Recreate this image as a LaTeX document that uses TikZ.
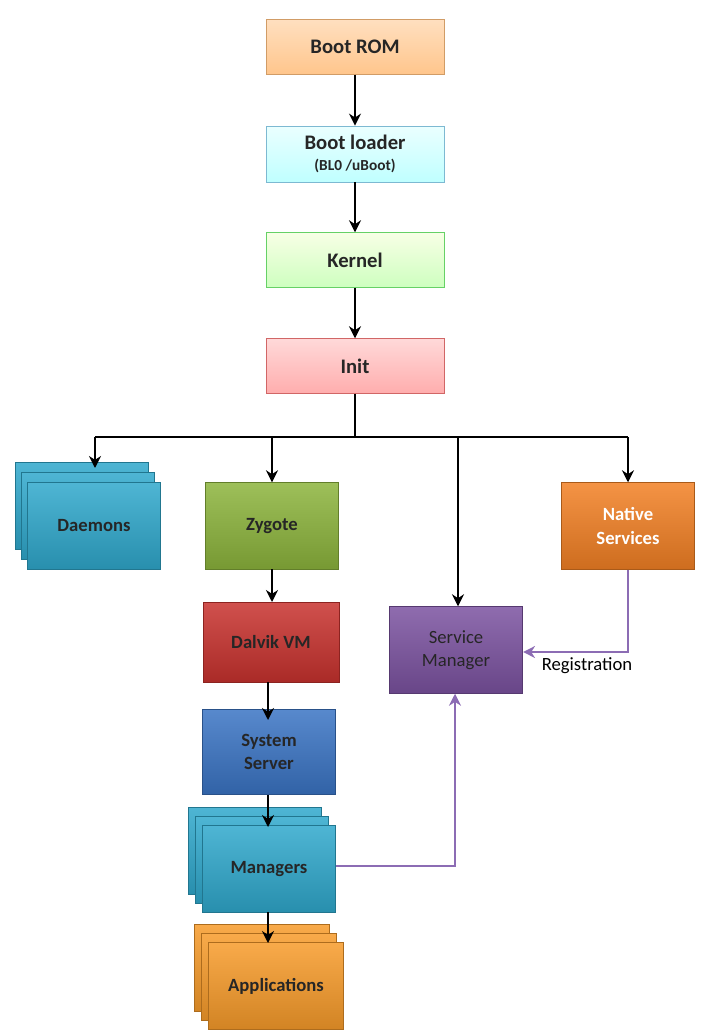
\documentclass[tikz,border=0pt]{standalone}
\usepackage{fontspec}
\setmainfont{Carlito}
\usetikzlibrary{arrows.meta}
\begin{document}
\begin{tikzpicture}[x=0.75pt,y=-0.75pt,
  lite/.style={draw=#1!70!black!60, line width=0.6pt, inner sep=0pt, font=\bfseries\fontsize{15.5}{17}\selectfont, text=black!85, align=center},
  dark/.style={draw=#1!70!black, line width=0.6pt, top color=#1!85!white, bottom color=#1!85!black, inner sep=0pt, font=\bfseries\fontsize{14}{17.5}\selectfont, text=black!85, align=center},
  arr/.style={line width=2pt, -{Stealth[length=9pt,width=9pt]}},
  parr/.style={line width=2pt, draw=cpur, -{Stealth[length=9pt,width=9pt]}},
  ln/.style={line width=2pt}]
\useasboundingbox (0,0) rectangle (720,1035);
\definecolor{cdae}{HTML}{2FA8CC}
\definecolor{czyg}{HTML}{8CB43C}
\definecolor{cnat}{HTML}{F28024}
\definecolor{cdal}{HTML}{C8322E}
\definecolor{csys}{HTML}{3A74C4}
\definecolor{csm}{HTML}{7B52A0}
\definecolor{capp}{HTML}{F79B2A}
\definecolor{cpur}{HTML}{8C6CB4}
\node[lite=orange, top color=orange!25, bottom color=orange!45, minimum width=133.5pt, minimum height=41pt] (rom) at (355,47) {Boot ROM};
\node[lite=cyan, top color=cyan!8, bottom color=cyan!25, minimum width=133.5pt, minimum height=42pt] (bl) at (355,154) {Boot loader\\[-1pt]{\fontsize{11.5}{13}\selectfont (BL0 /uBoot)}};
\node[lite=green, top color=green!5!lime!10, bottom color=lime!30!green!25, minimum width=133.5pt, minimum height=41pt] (ker) at (355,260) {Kernel};
\node[lite=red, top color=red!15, bottom color=red!32, minimum width=133.5pt, minimum height=41pt] (init) at (355,366) {Init};
\coordinate (bus) at (355,437);
\coordinate (bl1) at (95,437);
\coordinate (bl2) at (272,437);
\coordinate (bl3) at (458,437);
\coordinate (bl4) at (628,437);
\foreach \d in {12,6}{
  \node[dark=cdae, minimum width=100pt, minimum height=65pt] at (94-\d,526-\d*1.7) {};}
\node[dark=cdae, minimum width=100pt, minimum height=65pt] (dae) at (94,526) {Daemons};
\node[dark=czyg, minimum width=100pt, minimum height=65pt] (zyg) at (272,526) {Zygote};
\node[dark=cnat, minimum width=100pt, minimum height=65pt, text=white] (nat) at (628,526) {Native\\Services};
\node[dark=cdal, minimum width=102pt, minimum height=60pt] (dal) at (271,642) {Dalvik VM};
\node[dark=csys, minimum width=100pt, minimum height=64pt] (sys) at (269,752) {System\\Server};
\node[dark=csm, minimum width=100pt, minimum height=65pt, font=\fontsize{14}{17.5}\selectfont] (sm) at (456,650) {Service\\Manager};
\foreach \d in {14,7}{
  \node[dark=cdae, minimum width=100pt, minimum height=65pt] at (269-\d,869-\d*1.3) {};}
\node[dark=cdae, minimum width=100pt, minimum height=65pt] (man) at (269,869) {Managers};
\foreach \d in {14,7}{
  \node[dark=capp, minimum width=101pt, minimum height=65pt] at (276-\d,986-\d*1.3) {};}
\node[dark=capp, minimum width=101pt, minimum height=65pt] (app) at (276,986) {Applications};
\draw[arr] (rom) -- (bl);
\draw[arr] (bl) -- (ker);
\draw[arr] (ker) -- (init);
\draw[ln] (init) -- (bus);
\draw[ln] (bl1) -- (bl4);
\draw[arr] (bl1) -- (95,468);
\draw[arr] (bl2) -- (zyg);
\draw[arr] (bl3) -- (sm.north -| bl3);
\draw[arr] (bl4) -- (nat);
\draw[arr] (272,569) -- (272,602);
\draw[arr] (268,682) -- (268,720);
\draw[arr] (268,795) -- (268,827);
\draw[arr] (268,912) -- (268,943);
\coordinate (nc) at (628,652);
\draw[parr] (nat.south) -- (nc) -- (sm.east |- nc);
\node[font=\fontsize{14}{16}\selectfont, anchor=center] (reg) at (587,666) {Registration};
\coordinate (mc) at (455,866);
\draw[parr] (man.east |- mc) -- (mc) -- (sm.south -| mc);
\end{tikzpicture}
\end{document}
